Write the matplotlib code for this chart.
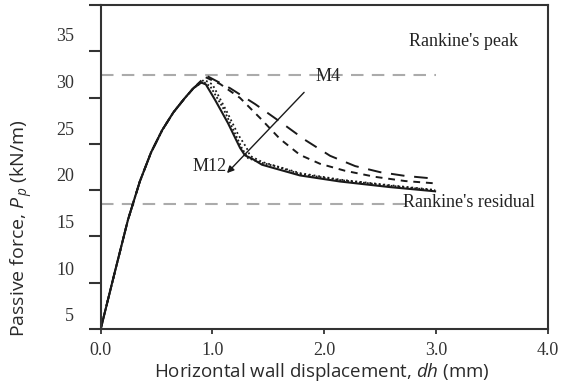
import numpy as np
import matplotlib.pyplot as plt

plt.rcParams["mathtext.fontset"] = "custom"
plt.rcParams["mathtext.rm"] = "Open Sans"
plt.rcParams["mathtext.it"] = "Open Sans:italic"

# curves (dh in mm, Pp in kN/m)
m12_x = [0.0, 0.12, 0.244, 0.35, 0.45, 0.55, 0.65, 0.75, 0.83, 0.9,
         0.941, 1.023, 1.139, 1.247, 1.291, 1.354, 1.443, 1.56, 1.783,
         2.141, 2.589, 2.992]
m12_y = [3.5, 9.3, 15.2, 19.3, 22.4, 24.8, 26.7, 28.2, 29.3, 29.9,
         29.7, 28.05, 25.55, 22.9, 22.1, 21.75, 21.1, 20.7, 19.95,
         19.3, 18.7, 18.25]

m10_x = [0.0, 0.12, 0.244, 0.35, 0.45, 0.55, 0.65, 0.75, 0.83, 0.915,
         0.98, 1.094, 1.262, 1.318, 1.44, 1.56, 1.783, 2.141, 2.589, 2.992]
m10_y = [3.5, 9.3, 15.2, 19.3, 22.4, 24.8, 26.7, 28.2, 29.3, 30.0,
         29.5, 27.2, 22.9, 21.8, 21.3, 20.95, 20.1, 19.45, 18.85, 18.35]

m8_x = [0.0, 0.12, 0.244, 0.35, 0.45, 0.55, 0.65, 0.75, 0.83, 0.925,
        1.0, 1.128, 1.231, 1.306, 1.336, 1.443, 1.783, 2.141, 2.589, 2.992]
m8_y = [3.5, 9.3, 15.2, 19.3, 22.4, 24.8, 26.7, 28.2, 29.3, 30.2,
        29.7, 26.8, 24.3, 22.9, 22.05, 21.4, 20.2, 19.5, 18.9, 18.4]

m6_x = [0.0, 0.12, 0.244, 0.35, 0.45, 0.55, 0.65, 0.75, 0.83, 0.933,
        1.068, 1.247, 1.426, 1.605, 1.783, 1.962, 2.186, 2.455, 2.723, 2.992]
m6_y = [3.5, 9.3, 15.2, 19.3, 22.4, 24.8, 26.7, 28.2, 29.3, 30.5,
        29.75, 28.25, 26.1, 23.85, 22.15, 21.2, 20.45, 19.8, 19.35, 19.1]

m4_x = [0.0, 0.12, 0.244, 0.35, 0.45, 0.55, 0.65, 0.75, 0.83, 0.951,
        1.157, 1.381, 1.605, 1.829, 2.053, 2.277, 2.5, 2.724, 2.99]
m4_y = [3.5, 9.3, 15.2, 19.3, 22.4, 24.8, 26.7, 28.2, 29.3, 30.6,
        29.3, 27.6, 25.7, 23.75, 22.05, 20.95, 20.3, 19.9, 19.6]

rankine_peak = 30.7
rankine_residual = 16.9

y_ticks = [5, 10, 15, 20, 25, 30, 35]
x_ticks = [0.0, 1.0, 2.0, 3.0, 4.0]

fig = plt.figure(figsize=(5.62, 3.86), dpi=100)
ax = fig.add_axes([0.1792, 0.1477, 0.7954, 0.8394])

gray = "#ababab"
ax.plot([0, 3.0], [rankine_peak] * 2, color=gray, lw=1.5, dashes=(6, 4))
ax.plot([0, 2.72], [rankine_residual] * 2, color=gray, lw=1.5, dashes=(6, 4))

ink = "#1a1a1a"
ax.plot(m4_x, m4_y, color=ink, lw=1.4, dashes=(7, 5))
ax.plot(m6_x, m6_y, color=ink, lw=1.4, dashes=(3.5, 3))
ax.plot(m8_x, m8_y, color=ink, lw=1.3, dashes=(1, 1.6))
ax.plot(m10_x, m10_y, color=ink, lw=1.3, dashes=(1, 1.2))
ax.plot(m12_x, m12_y, color=ink, lw=1.5)

ax.annotate("", xy=(1.13, 20.2), xytext=(1.82, 28.85),
            arrowprops=dict(arrowstyle="-|>", color=ink, lw=1.0,
                            mutation_scale=10, shrinkA=0, shrinkB=0))

serif = "Liberation Serif"
ax.text(2.035, 30.55, "M4", family=serif, fontsize=13, color="#222222",
        ha="center", va="center")
ax.text(0.978, 20.9, "M12", family=serif, fontsize=13, color="#222222",
        ha="center", va="center")
ax.text(3.243, 34.25, "Rankine's peak", family=serif, fontsize=13,
        color="#222222", ha="center", va="center")
ax.text(2.705, 17.05, "Rankine's residual", family=serif, fontsize=13,
        color="#222222", ha="left", va="center")

ax.set_xlim(0, 4)
ax.set_ylim(3.5, 38.21)

spine = "#333333"
for s in ax.spines.values():
    s.set_color(spine)
    s.set_linewidth(1.5)

ax.set_xticks(x_ticks)
ax.set_xticklabels([f"{v:.1f}" for v in x_ticks], family=serif, fontsize=13,
                   color="#333333")
ax.tick_params(axis="x", direction="out", length=3.5, width=1.3, color=spine,
               pad=6)

ax.set_yticks(y_ticks)
ax.set_yticklabels([str(v) for v in y_ticks], family=serif, fontsize=13,
                   color="#333333")
ax.tick_params(axis="y", which="major", length=0, pad=19)
ax.set_yticks(np.linspace(3.5, 38.21, 8), minor=True)
ax.tick_params(axis="y", which="minor", direction="out", length=8.6,
               width=1.5, color=spine)

fig.text(22 / 562, 1 - 228 / 386, "Passive force, $P_{\\,p}$ (kN/m)",
         family="Open Sans", fontsize=14, rotation=90, ha="center",
         va="center", color="#2a2a2a")
fig.text(321.7 / 562, 1 - 371.7 / 386, "Horizontal wall displacement, $dh$ (mm)",
         family="Open Sans", fontsize=13.5, ha="center", va="center",
         color="#2a2a2a")

fig.savefig("out.png", dpi=100)
